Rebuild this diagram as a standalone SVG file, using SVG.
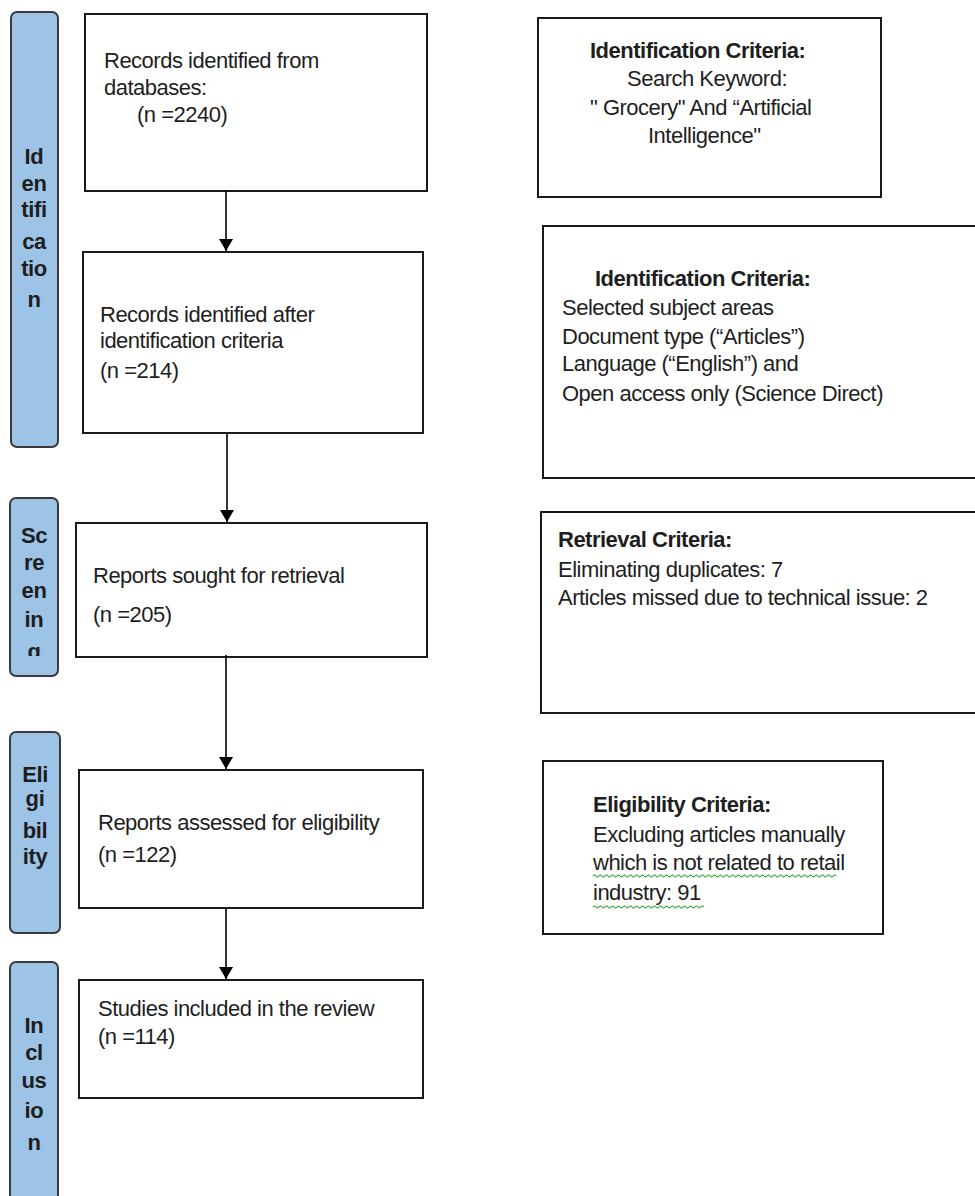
<svg xmlns="http://www.w3.org/2000/svg" width="975" height="1196" viewBox="0 0 975 1196">
<style>
.bg{fill:#ffffff}
.bar{fill:#9dc3e6;stroke:#3a3a3a;stroke-width:2}
.box{fill:#ffffff;stroke:#1a1a1a;stroke-width:2}
.t{font-family:"Liberation Sans",Arial,sans-serif;font-size:22px;letter-spacing:-0.5px;fill:#1e1e1e}
.b{font-weight:bold}
.bt{font-family:"Liberation Sans",Arial,sans-serif;font-size:22px;letter-spacing:-0.4px;font-weight:bold;fill:#1e1e1e;text-anchor:middle}
.conn{stroke:#000;stroke-width:1.6;fill:none}
.wave{stroke:#3aa23a;stroke-width:1.2;fill:none}
</style>
<defs>
<marker id="arr" viewBox="0 0 12 14" refX="12" refY="7" markerWidth="12" markerHeight="14" markerUnits="userSpaceOnUse" orient="auto">
<path d="M0,0 L12,7 L0,14 Z" fill="#000"/>
</marker>
<clipPath id="clipScr"><rect x="10" y="498" width="48" height="158"/></clipPath>
</defs>
<rect class="bg" x="0" y="0" width="975" height="1196"/>

<g id="stage-identification">
<rect class="bar" x="11" y="12" width="47" height="435" rx="6"/>
<text class="bt" x="34" y="164">Id</text>
<text class="bt" x="34" y="191">en</text>
<text class="bt" x="34" y="217">tifi</text>
<text class="bt" x="34" y="249">ca</text>
<text class="bt" x="34" y="276">tio</text>
<text class="bt" x="34" y="307">n</text>
</g>

<g id="stage-screening">
<rect class="bar" x="10" y="498" width="48" height="178" rx="6"/>
<g clip-path="url(#clipScr)">
<text class="bt" x="34" y="543">Sc</text>
<text class="bt" x="34" y="570">re</text>
<text class="bt" x="34" y="598">en</text>
<text class="bt" x="34" y="627">in</text>
<text class="bt" x="34" y="659">g</text>
</g>
</g>

<g id="stage-eligibility">
<rect class="bar" x="10" y="732" width="50" height="201" rx="6"/>
<text class="bt" x="35" y="782">Eli</text>
<text class="bt" x="35" y="806">gi</text>
<text class="bt" x="35" y="838">bil</text>
<text class="bt" x="35" y="864">ity</text>
</g>

<g id="stage-inclusion">
<rect class="bar" x="10" y="962" width="48" height="250" rx="6"/>
<text class="bt" x="34" y="1033">In</text>
<text class="bt" x="34" y="1060">cl</text>
<text class="bt" x="34" y="1088">us</text>
<text class="bt" x="34" y="1118">io</text>
<text class="bt" x="34" y="1150">n</text>
</g>

<g id="box-records-db">
<rect class="box" x="85" y="14" width="342" height="177"/>
<text class="t" x="104" y="68">Records identified from</text>
<text class="t" x="104" y="95">databases:</text>
<text class="t" x="137" y="122">(n =2240)</text>
</g>

<g id="box-records-after">
<rect class="box" x="83" y="252" width="340" height="181"/>
<text class="t" x="100" y="322">Records identified after</text>
<text class="t" x="100" y="348">identification criteria</text>
<text class="t" x="100" y="378">(n =214)</text>
</g>

<g id="box-reports-sought">
<rect class="box" x="76" y="523" width="351" height="134"/>
<text class="t" x="93" y="583">Reports sought for retrieval</text>
<text class="t" x="93" y="622">(n =205)</text>
</g>

<g id="box-reports-assessed">
<rect class="box" x="79" y="770" width="344" height="138"/>
<text class="t" x="98" y="830">Reports assessed for eligibility</text>
<text class="t" x="98" y="862">(n =122)</text>
</g>

<g id="box-studies-included">
<rect class="box" x="79" y="980" width="344" height="118"/>
<text class="t" x="98" y="1016">Studies included in the review</text>
<text class="t" x="98" y="1044">(n =114)</text>
</g>

<g id="box-crit-keyword">
<rect class="box" x="538" y="18" width="343" height="179"/>
<text class="t b" x="590" y="58">Identification Criteria:</text>
<text class="t" x="627" y="86">Search Keyword:</text>
<text class="t" x="590" y="115">" Grocery" And “Artificial</text>
<text class="t" x="648" y="143">Intelligence"</text>
</g>

<g id="box-crit-subject">
<rect class="box" x="543" y="226" width="440" height="252"/>
<text class="t b" x="595" y="286">Identification Criteria:</text>
<text class="t" x="562" y="315">Selected subject areas</text>
<text class="t" x="562" y="344">Document type (“Articles”)</text>
<text class="t" x="562" y="371">Language (“English”) and</text>
<text class="t" x="562" y="401">Open access only (Science Direct)</text>
</g>

<g id="box-crit-retrieval">
<rect class="box" x="541" y="512" width="440" height="201"/>
<text class="t b" x="558" y="547">Retrieval Criteria:</text>
<text class="t" x="558" y="577">Eliminating duplicates: 7</text>
<text class="t" x="558" y="605">Articles missed due to technical issue: 2</text>
</g>

<g id="box-crit-eligibility">
<rect class="box" x="543" y="761" width="340" height="173"/>
<text class="t b" x="593" y="812">Eligibility Criteria:</text>
<text class="t" x="593" y="842">Excluding articles manually</text>
<text class="t" x="593" y="870">which is not related to retail</text>
<text class="t" x="593" y="900">industry: 91</text>
<path class="wave" d="M593,876 q1.5,-2 3,0 t3,0 t3,0 t3,0 t3,0 t3,0 t3,0 t3,0 t3,0 t3,0 t3,0 t3,0 t3,0 t3,0 t3,0 t3,0 t3,0 t3,0 t3,0 t3,0 t3,0 t3,0 t3,0 t3,0 t3,0 t3,0 t3,0 t3,0 t3,0 t3,0 t3,0 t3,0 t3,0 t3,0 t3,0 t3,0 t3,0 t3,0 t3,0 t3,0 t3,0 t3,0 t3,0 t3,0 t3,0 t3,0 t3,0 t3,0 t3,0 t3,0 t3,0 t3,0 t3,0 t3,0 t3,0 t3,0 t3,0 t3,0 t3,0 t3,0 t3,0 t3,0 t3,0 t3,0 t3,0 t3,0 t3,0 t3,0 t3,0 t3,0 t3,0 t3,0 t3,0 t3,0 t3,0 t3,0 t3,0 t3,0 t3,0 t3,0 t3,0"/>
<path class="wave" d="M593,907 q1.5,-2 3,0 t3,0 t3,0 t3,0 t3,0 t3,0 t3,0 t3,0 t3,0 t3,0 t3,0 t3,0 t3,0 t3,0 t3,0 t3,0 t3,0 t3,0 t3,0 t3,0 t3,0 t3,0 t3,0 t3,0 t3,0 t3,0 t3,0 t3,0 t3,0 t3,0 t3,0 t3,0 t3,0 t3,0 t3,0 t3,0 t3,0"/>
</g>

<g id="connectors">
<line class="conn" x1="226" y1="191" x2="226" y2="251" marker-end="url(#arr)"/>
<line class="conn" x1="227" y1="433" x2="227" y2="522" marker-end="url(#arr)"/>
<line class="conn" x1="226" y1="655" x2="226" y2="769" marker-end="url(#arr)"/>
<line class="conn" x1="226" y1="908" x2="226" y2="979" marker-end="url(#arr)"/>
</g>
</svg>
